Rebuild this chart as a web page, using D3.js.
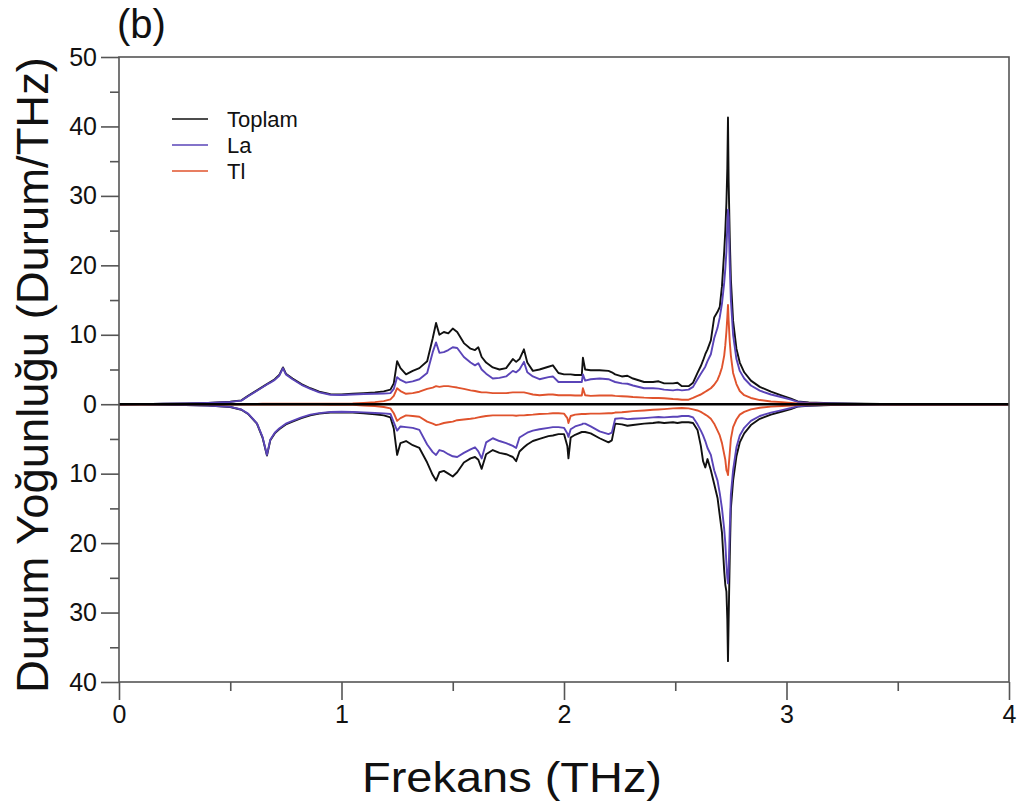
<!DOCTYPE html>
<html>
<head>
<meta charset="utf-8">
<script src="https://cdn.jsdelivr.net/npm/d3@7"></script>
<style>
  html, body { margin: 0; padding: 0; background: #fff; }
  svg { display: block; font-family: Arial, "Liberation Sans", Helvetica, sans-serif; }
</style>
</head>
<body>
<svg id="chart" width="1025" height="812"></svg>
<script>
// ---------------- DATA ----------------
const freq = [
  0, 0.1, 0.2, 0.3, 0.4, 0.5, 0.55, 0.58, 0.62, 0.645,
  0.665, 0.68, 0.70, 0.72, 0.737, 0.75, 0.78, 0.82, 0.86, 0.9,
  0.95, 1.0, 1.05, 1.1, 1.15, 1.19, 1.22, 1.235, 1.25, 1.265,
  1.29, 1.32, 1.35, 1.385, 1.41, 1.425, 1.44, 1.46, 1.48, 1.50,
  1.52, 1.55, 1.58, 1.60, 1.615, 1.63, 1.65, 1.68, 1.71, 1.74,
  1.77, 1.785, 1.80, 1.82, 1.835, 1.86, 1.89, 1.93, 1.95, 1.975,
  2.00, 2.015, 2.02, 2.03, 2.05, 2.08, 2.085, 2.095, 2.12, 2.16,
  2.20, 2.215, 2.23, 2.26, 2.285, 2.31, 2.36, 2.40, 2.425, 2.45, 2.49, 2.51, 2.53,
  2.56, 2.58, 2.60, 2.615, 2.625, 2.635, 2.645, 2.66, 2.675, 2.69,
  2.70, 2.71, 2.72, 2.725, 2.73, 2.734, 2.737, 2.74, 2.745, 2.75,
  2.76, 2.775, 2.79, 2.81, 2.84, 2.88, 2.93, 2.98, 3.02, 3.05,
  3.1, 3.2, 3.35, 3.5, 4.0
];

// upper half (positive)
const toplamUp = [
  0, 0.02, 0.06, 0.12, 0.2, 0.35, 0.55, 1.2, 2.0, 2.5,
  2.9, 3.2, 3.6, 4.2, 5.3, 4.4, 3.7, 2.9, 2.3, 1.8,
  1.45, 1.4, 1.5, 1.6, 1.7, 1.85, 2.1, 3.0, 6.2, 5.2,
  4.3, 4.8, 5.2, 6.2, 9.5, 11.7, 10.0, 10.4, 10.2, 10.9,
  10.4, 8.8, 8.0, 7.8, 8.2, 6.8, 6.0, 5.3, 5.0, 5.2,
  6.5, 6.1, 6.5, 7.9, 6.0, 4.8, 5.0, 5.4, 5.6, 4.5,
  4.3, 4.3, 4.3, 4.3, 4.2, 4.2, 6.7, 5.0, 4.9, 4.9,
  4.8, 4.6, 4.3, 4.0, 4.1, 3.7, 3.2, 3.2, 3.3, 3.0, 3.0, 3.1, 2.6,
  2.6, 3.1, 4.5, 5.5, 6.3, 7.2, 7.9, 9.2, 12.5, 13.3,
  14.0, 17, 22, 25, 29, 34, 41.3, 32, 24, 18,
  12, 8, 6.0, 4.6, 3.4, 2.5, 1.8, 1.25, 0.8, 0.4,
  0.25, 0.15, 0.06, 0, 0
];
const laUp = [
  0, 0.02, 0.06, 0.11, 0.19, 0.33, 0.52, 1.15, 1.95, 2.45,
  2.85, 3.1, 3.5, 4.1, 5.2, 4.3, 3.6, 2.8, 2.2, 1.7,
  1.37, 1.32, 1.4, 1.47, 1.5, 1.55, 1.6, 2.2, 3.9, 3.5,
  3.1, 3.3, 3.6, 4.5, 7.5, 8.9, 7.4, 7.5, 7.8, 8.2,
  8.1, 6.8, 6.0, 5.6, 5.9, 5.0, 4.4, 3.7, 3.8, 4.0,
  4.8, 4.6, 5.0, 6.1, 4.6, 4.0, 3.6, 3.9, 4.0, 3.2,
  3.2, 3.2, 3.2, 3.2, 3.2, 3.2, 4.3, 3.4, 3.6, 3.7,
  3.6, 3.4, 3.2, 3.0, 2.95, 2.7, 2.3, 2.3, 2.25, 2.1, 2.0, 2.1, 2.0,
  2.1, 2.5, 3.6, 4.4, 4.9, 5.4, 6.2, 7.2, 9.5, 11.0,
  12.5, 14.5, 17.5, 19.5, 22, 26, 28, 27, 20, 15,
  10, 6.5, 4.8, 3.7, 2.7, 1.95, 1.4, 1.0, 0.65, 0.33,
  0.2, 0.12, 0.05, 0, 0
];
const tlUp = [
  0, 0, 0.01, 0.01, 0.02, 0.03, 0.04, 0.05, 0.05, 0.06,
  0.06, 0.06, 0.06, 0.07, 0.07, 0.07, 0.07, 0.07, 0.07, 0.07,
  0.08, 0.09, 0.12, 0.2, 0.3, 0.45, 0.7, 1.2, 2.3, 1.9,
  1.5, 1.6, 1.8, 2.2, 2.4, 2.6, 2.5, 2.6, 2.6, 2.5,
  2.4, 2.2, 2.0, 1.9, 1.8, 1.7, 1.7, 1.6, 1.6, 1.6,
  1.7, 1.7, 1.7, 1.7, 1.6, 1.4, 1.3, 1.4, 1.4, 1.3,
  1.3, 1.3, 1.3, 1.3, 1.25, 1.25, 2.3, 1.3, 1.2, 1.25,
  1.25, 1.25, 1.2, 1.15, 1.12, 1.05, 0.95, 0.9, 0.9, 0.85, 0.75, 0.72, 0.65,
  0.65, 0.9, 1.2, 1.4, 1.6, 1.8, 2.0, 2.3, 2.8, 3.5,
  4.3, 5.3, 7.0, 8.5, 10.5, 12.5, 14.3, 12.0, 9.0, 7.0,
  4.5, 2.9, 1.9, 1.3, 0.9, 0.6, 0.4, 0.3, 0.2, 0.1,
  0.06, 0.04, 0.02, 0, 0
];

// lower half (drawn downward)
const toplamDown = [
  0, 0.02, 0.06, 0.12, 0.2, 0.4, 0.8, 1.4, 2.8, 4.8,
  7.4, 5.2, 4.2, 3.6, 3.2, 2.9, 2.5, 2.0, 1.6, 1.35,
  1.2, 1.15, 1.2, 1.3, 1.45, 1.6, 1.9, 3.5, 7.3, 5.6,
  5.3, 5.9, 6.3, 8.4, 10.2, 11.0, 9.8, 9.6, 10.0, 10.4,
  9.8, 8.4, 7.8, 7.6, 8.0, 9.3, 7.2, 6.6, 7.0, 7.2,
  7.6, 8.2, 6.8, 6.2, 5.8, 5.3, 5.0, 4.6, 4.5, 4.3,
  4.3, 6.0, 7.8, 4.8, 4.4, 4.0, 4.0, 4.0, 4.2, 4.9,
  5.5, 5.2, 2.8, 2.9, 3.1, 3.0, 2.8, 2.7, 2.6, 2.7, 2.6, 2.7, 2.6,
  2.6, 2.7, 3.7, 6.0, 8.2, 9.1, 7.9, 9.5, 11.5, 13.5,
  16.0, 18.5, 24, 26, 27, 31, 37, 31, 22, 15,
  11, 7.5, 5.5, 4.2, 3.0, 2.1, 1.5, 1.05, 0.7, 0.35,
  0.22, 0.13, 0.05, 0, 0
];
const laDown = [
  0, 0.02, 0.06, 0.11, 0.19, 0.38, 0.76, 1.35, 2.75, 4.7,
  7.3, 5.1, 4.1, 3.5, 3.1, 2.8, 2.4, 1.9, 1.5, 1.28,
  1.13, 1.08, 1.12, 1.18, 1.27, 1.32, 1.4, 2.6, 3.8, 3.2,
  3.3, 3.4, 3.7, 5.8, 6.9, 7.3, 6.6, 6.8, 7.2, 7.5,
  7.6, 7.0, 6.5, 6.2, 6.8, 7.8, 5.5, 4.9, 5.3, 5.6,
  6.0, 6.3, 4.8, 4.4, 4.1, 3.8, 3.6, 3.4, 3.3, 3.3,
  3.4, 4.2, 4.7, 3.6, 3.2, 2.9, 2.8, 2.8, 3.2, 3.9,
  4.3, 4.1, 2.1, 2.0, 2.15, 2.1, 2.0, 1.9, 1.85, 1.9, 1.8, 1.8, 1.7,
  1.7, 1.9, 2.9, 3.8, 4.5, 5.3, 6.3, 7.3, 9.5, 11.0,
  12.8, 15.0, 18, 20, 23, 25, 25.8, 24, 18, 13,
  9.5, 6.2, 4.5, 3.4, 2.4, 1.7, 1.2, 0.85, 0.55, 0.3,
  0.18, 0.1, 0.04, 0, 0
];
const tlDown = [
  0, 0, 0.01, 0.01, 0.02, 0.03, 0.04, 0.05, 0.05, 0.05,
  0.06, 0.06, 0.06, 0.06, 0.06, 0.06, 0.06, 0.06, 0.06, 0.06,
  0.07, 0.08, 0.1, 0.18, 0.25, 0.4, 0.6, 1.3, 2.4, 2.0,
  1.6, 1.7, 1.8, 2.5, 2.8, 3.0, 2.9, 2.7, 2.6, 2.5,
  2.3, 2.2, 2.1, 2.0, 1.9, 1.8, 1.7, 1.6, 1.6, 1.6,
  1.6, 1.65, 1.6, 1.6, 1.55, 1.5, 1.4, 1.35, 1.3, 1.3,
  1.35, 2.0, 2.7, 1.7, 1.5, 1.4, 1.4, 1.4, 1.35, 1.35,
  1.3, 1.3, 1.2, 1.15, 1.08, 1.0, 0.9, 0.8, 0.75, 0.7, 0.6, 0.58, 0.55,
  0.6, 0.75, 0.9, 1.1, 1.3, 1.5, 1.7, 2.1, 2.8, 3.8,
  4.5, 5.6, 7.2, 8.0, 9.5, 9.8, 10.2, 9.0, 7.0, 5.0,
  3.3, 2.2, 1.5, 1.1, 0.75, 0.5, 0.35, 0.25, 0.18, 0.09,
  0.05, 0.03, 0.01, 0, 0
];

const seriesNames = ["Toplam", "La", "Tl"];
const seriesColors = ["#111111", "#5a44b8", "#e0532d"];
const xTicks = [0, 1, 2, 3, 4];
const xMinorTicks = [0.5, 1.5, 2.5, 3.5];
const yTicks = [-40, -30, -20, -10, 0, 10, 20, 30, 40, 50];
const yMinorTicks = [-35, -25, -15, -5, 5, 15, 25, 35, 45];
const panelLabel = "(b)";
const xTitle = "Frekans (THz)";
const yTitle = "Durum Yoğunluğu (Durum/THz)";

// ---------------- DRAW ----------------
(function () {
const svg = d3.select("#chart");
svg.append("rect").attr("width", 1025).attr("height", 812).attr("fill", "#fff");

const mLeft = 119, mRight = 1009, mTop = 57, mBottom = 682;
const x = d3.scaleLinear().domain([0, 4]).range([mLeft, mRight]);
const y = d3.scaleLinear().domain([-40, 50]).range([mBottom, mTop]);

const frameColor = "#555";

// curves
const upSeries = [toplamUp, laUp, tlUp];
const downSeries = [toplamDown, laDown, tlDown];
const line = d3.line().x(d => x(d[0])).y(d => y(d[1]));

const plot = svg.append("g");
for (let s = 0; s < 3; s++) {
  const up = freq.map((f, i) => [f, upSeries[s][i]]);
  const dn = freq.map((f, i) => [f, -downSeries[s][i]]);
  [up, dn].forEach(pts => {
    plot.append("path")
      .attr("d", line(pts))
      .attr("fill", "none")
      .attr("stroke", seriesColors[s])
      .attr("stroke-width", 1.9)
      .attr("stroke-linejoin", "round");
  });
}

// zero line
svg.append("line")
  .attr("x1", x(0)).attr("x2", x(4))
  .attr("y1", y(0)).attr("y2", y(0))
  .attr("stroke", "#000").attr("stroke-width", 2.6);

// frame
svg.append("rect")
  .attr("x", mLeft).attr("y", mTop)
  .attr("width", mRight - mLeft).attr("height", mBottom - mTop)
  .attr("fill", "none").attr("stroke", frameColor).attr("stroke-width", 1.6);

// axes
const xAxis = d3.axisBottom(x).tickValues(xTicks).tickSize(18).tickPadding(5)
  .tickFormat(d3.format("d"));
const xMinor = d3.axisBottom(x).tickValues(xMinorTicks).tickSize(9).tickFormat("");
const yAxis = d3.axisLeft(y).tickValues(yTicks).tickSize(18).tickPadding(4)
  .tickFormat(d => Math.abs(d));
const yMinor = d3.axisLeft(y).tickValues(yMinorTicks).tickSize(9).tickFormat("");

function styleAxis(g) {
  g.select(".domain").remove();
  g.selectAll(".tick line").attr("stroke", frameColor).attr("stroke-width", 1.6);
  g.selectAll(".tick text").attr("fill", "#111")
    .style("font-size", "25px")
    .style("font-family", "Arial, 'Liberation Sans', sans-serif");
}
svg.append("g").attr("transform", `translate(0,${mBottom})`).call(xAxis).call(styleAxis);
svg.append("g").attr("transform", `translate(0,${mBottom})`).call(xMinor).call(styleAxis);
svg.append("g").attr("transform", `translate(${mLeft},0)`).call(yAxis).call(styleAxis);
svg.append("g").attr("transform", `translate(${mLeft},0)`).call(yMinor).call(styleAxis);

// titles
svg.append("text")
  .attr("x", 512).attr("y", 792)
  .attr("text-anchor", "middle")
  .attr("fill", "#111")
  .style("font-size", "43px")
  .attr("textLength", 300).attr("lengthAdjust", "spacingAndGlyphs")
  .text(xTitle);

svg.append("text")
  .attr("transform", `translate(48,${(mTop + 693) / 2}) rotate(-90)`)
  .attr("text-anchor", "middle")
  .attr("fill", "#111")
  .style("font-size", "44px")
  .attr("textLength", 636).attr("lengthAdjust", "spacingAndGlyphs")
  .text(yTitle);

svg.append("text")
  .attr("x", 117).attr("y", 38)
  .attr("fill", "#111")
  .style("font-size", "40px")
  .text(panelLabel);

// legend
const legendY = [119, 145, 171];
const lg = svg.append("g");
seriesNames.forEach((name, i) => {
  lg.append("line")
    .attr("x1", 172).attr("x2", 208)
    .attr("y1", legendY[i]).attr("y2", legendY[i])
    .attr("stroke", seriesColors[i]).attr("stroke-width", 1.6);
  lg.append("text")
    .attr("x", 227).attr("y", legendY[i] + 8)
    .attr("fill", "#111")
    .style("font-size", "22px")
    .text(name);
});
})();
</script>
</body>
</html>
